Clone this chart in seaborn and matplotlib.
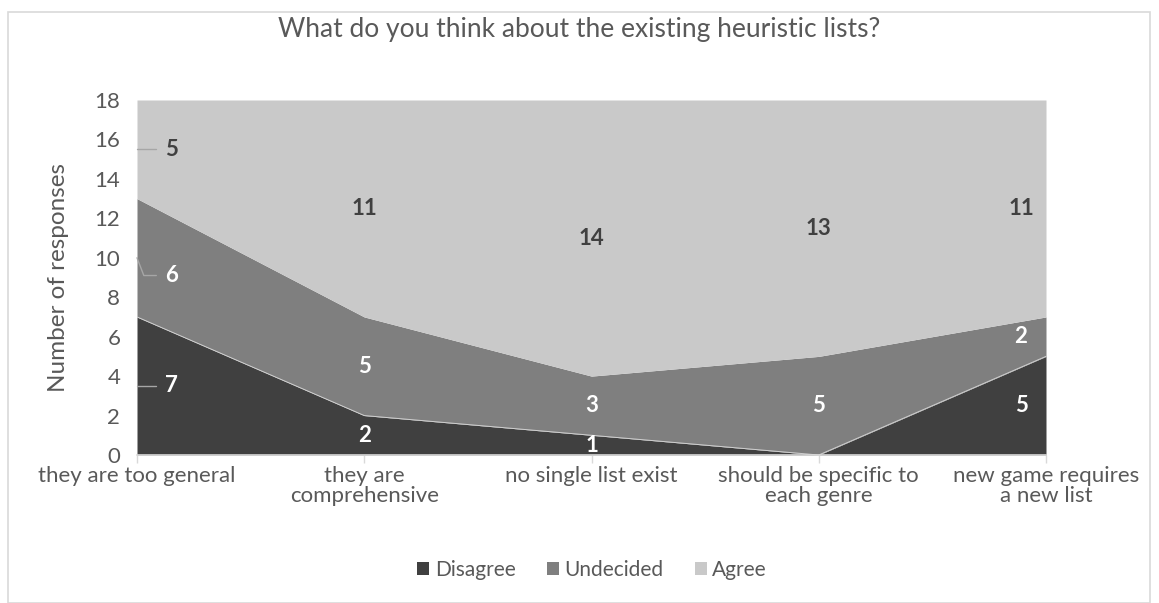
import numpy as np
import matplotlib
matplotlib.use("Agg")
import matplotlib.pyplot as plt
import seaborn as sns
from matplotlib.patches import Rectangle

categories = ["they are too general", "they are\ncomprehensive", "no single list exist",
              "should be specific to\neach genre", "new game requires\na new list"]
disagree = [7, 2, 1, 0, 5]
undecided = [6, 5, 3, 5, 2]
agree = [5, 11, 14, 13, 11]
series_names = ["Disagree", "Undecided", "Agree"]
colors = ["#404040", "#7f7f7f", "#c9c9c9"]
label_colors = ["white", "white", "#404040"]
title = "What do you think about the existing heuristic lists?"
ylabel = "Number of responses"
yticks = list(range(0, 19, 2))

sns.set_theme(style="white")
plt.rcParams['font.family'] = ['Lato', 'DejaVu Sans']
txt = "#595959"

fig = plt.figure(figsize=(11.59, 6.03), dpi=100)
fig.patches.append(Rectangle((8/1159, 0), 1142/1159, (603-12)/603, transform=fig.transFigure,
                             fill=False, edgecolor="#d9d9d9", linewidth=1.2))
ax = fig.add_axes([137/1159, 1-455/603, (1046-137)/1159, 355/603])

x = np.arange(len(categories))
data = [disagree, undecided, agree]
ax.stackplot(x, *data, colors=colors, labels=series_names, linewidth=0)
# thin light boundary between disagree and undecided
sns.lineplot(x=x, y=disagree, ax=ax, color="#d0d0d0", linewidth=0.7, legend=False)

ax.set_xlim(0, len(categories) - 1)
ax.set_ylim(0, 18)
ax.set_yticks(yticks)
ax.set_yticklabels([str(t) for t in yticks], color=txt, fontsize=16)
ax.set_xticks(x)
ax.set_xticklabels(categories, color=txt, fontsize=16, linespacing=1.0)
ax.tick_params(axis='x', length=6, color="#d9d9d9", width=1, pad=2, direction='out', bottom=True)
ax.tick_params(axis='y', length=0, pad=12)
for s in ["left", "right", "top"]:
    ax.spines[s].set_visible(False)
ax.spines["bottom"].set_color("#d9d9d9")
ax.spines["bottom"].set_linewidth(1.2)
ax.set_ylabel(ylabel, color=txt, fontsize=17.5, labelpad=18)
fig.text(0.5, 1-30/603, title, ha="center", va="center", color=txt, fontsize=19)

# data labels
base = np.zeros(len(categories))
for si, vals in enumerate(data):
    for i, v in enumerate(vals):
        mid = base[i] + v / 2
        if v == 0:
            continue
        xi = x[i]
        if i == 0:
            xl = 0.15
            yl = mid if si != 1 else mid - 0.9
            ax.text(xl, yl, str(v), ha="center", va="center",
                    color=label_colors[si], fontsize=16, fontweight="bold")
            if si == 1:
                ax.plot([0.0, 0.03, 0.085], [mid, yl, yl], color="#a6a6a6", lw=1, clip_on=False)
            else:
                ax.plot([0.0, 0.085], [mid, mid], color="#a6a6a6", lw=1, clip_on=False)
        else:
            if i == len(categories) - 1:
                xi = xi - 0.11
            ax.text(xi, mid, str(v), ha="center", va="center",
                    color=label_colors[si], fontsize=16, fontweight="bold")
    base = base + np.array(vals)

handles, labels = ax.get_legend_handles_labels()
leg = fig.legend(handles, labels, loc="center", bbox_to_anchor=(592/1159, 1-570/603), ncol=3,
                 frameon=False, fontsize=15, handlelength=0.6, handleheight=0.6,
                 handletextpad=0.25, columnspacing=1.5)
for t in leg.get_texts():
    t.set_color(txt)

fig.savefig("out.png", dpi=100)
